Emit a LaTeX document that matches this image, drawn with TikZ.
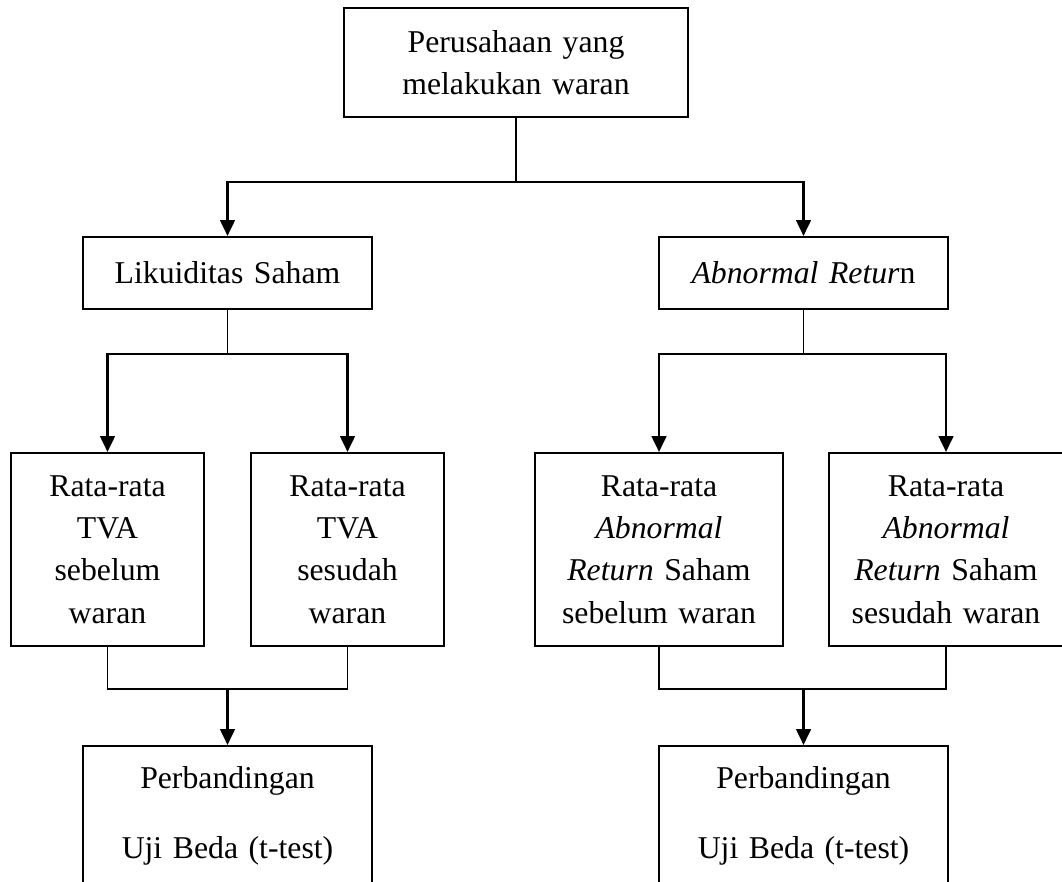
\documentclass[tikz,border=0pt]{standalone}
\usepackage{fontspec}
\setmainfont{Liberation Serif}
\usetikzlibrary{arrows.meta}
\usetikzlibrary{calc}

\begin{document}
\begin{tikzpicture}[x=0.75pt,y=-0.75pt,
  box/.style={draw, line width=1.5pt, inner sep=0pt, align=center,
    font=\fontsize{23.8}{31.7}\selectfont},
  thinline/.style={line width=1.4pt},
  arrowline/.style={line width=2pt, -{Triangle[length=12pt,width=11pt]}}]
\useasboundingbox (0,0) rectangle (1062,881);
% top level
\node[box, text width=258pt, minimum height=81.75pt] (perusahaan) at (516,62.5)
  {Perusahaan yang\\melakukan waran};
% second level
\node[box, text width=216.75pt, minimum height=54pt] (likuid) at (227.5,273)
  {Likuiditas Saham};
\node[box, text width=216.75pt, minimum height=54pt] (abnormal) at (803.5,273)
  {\textit{Abnormal Retur}n};
% third level
\node[box, text width=144.75pt, minimum height=144.75pt] (tvasebelum) at (107.5,549.5)
  {Rata-rata\\TVA\\sebelum\\waran};
\node[box, text width=144.75pt, minimum height=144.75pt] (tvasesudah) at (347.5,549.5)
  {Rata-rata\\TVA\\sesudah\\waran};
\node[box, text width=186pt, minimum height=144.75pt] (arsebelum) at (659,549.5)
  {Rata-rata\\\textit{Abnormal}\\\textit{Return} Saham\\sebelum waran};
\node[box, text width=175.5pt, minimum height=144.75pt] (arsesudah) at (946,549.5)
  {Rata-rata\\\textit{Abnormal}\\\textit{Return} Saham\\sesudah waran};
% bottom level (cut off by the page)
\node[box, text width=216.75pt, minimum height=105pt] (ujikiri) at (227.5,816)
  {Perbandingan\\[21pt]Uji Beda (t-test)};
\node[box, text width=216.75pt, minimum height=105pt] (ujikanan) at (803.5,816)
  {Perbandingan\\[21pt]Uji Beda (t-test)};
% junctions
\coordinate (j1) at ($(perusahaan.south)+(0,64)$);
\coordinate (j2) at ($(likuid.south)+(0,44)$);
\coordinate (j3) at ($(abnormal.south)+(0,44)$);
\coordinate (j4) at ($(ujikiri.north)+(0,-56)$);
\coordinate (j5) at ($(ujikanan.north)+(0,-56)$);
% connectors
\draw[thinline] (perusahaan.south) -- (j1);
\draw[arrowline] (j1) -| (likuid.north);
\draw[arrowline] (j1) -| (abnormal.north);
\draw[thinline] (likuid.south) -- (j2);
\draw[arrowline] (j2) -| (tvasebelum.north);
\draw[arrowline] (j2) -| (tvasesudah.north);
\draw[thinline] (abnormal.south) -- (j3);
\draw[arrowline] (j3) -| (arsebelum.north);
\draw[arrowline] (j3) -| (arsesudah.north);
\draw[thinline] (tvasebelum.south) |- (j4) -| (tvasesudah.south);
\draw[arrowline] (j4) -- (ujikiri.north);
\draw[thinline] (arsebelum.south) |- (j5) -| (arsesudah.south);
\draw[arrowline] (j5) -- (ujikanan.north);
\end{tikzpicture}
\end{document}
